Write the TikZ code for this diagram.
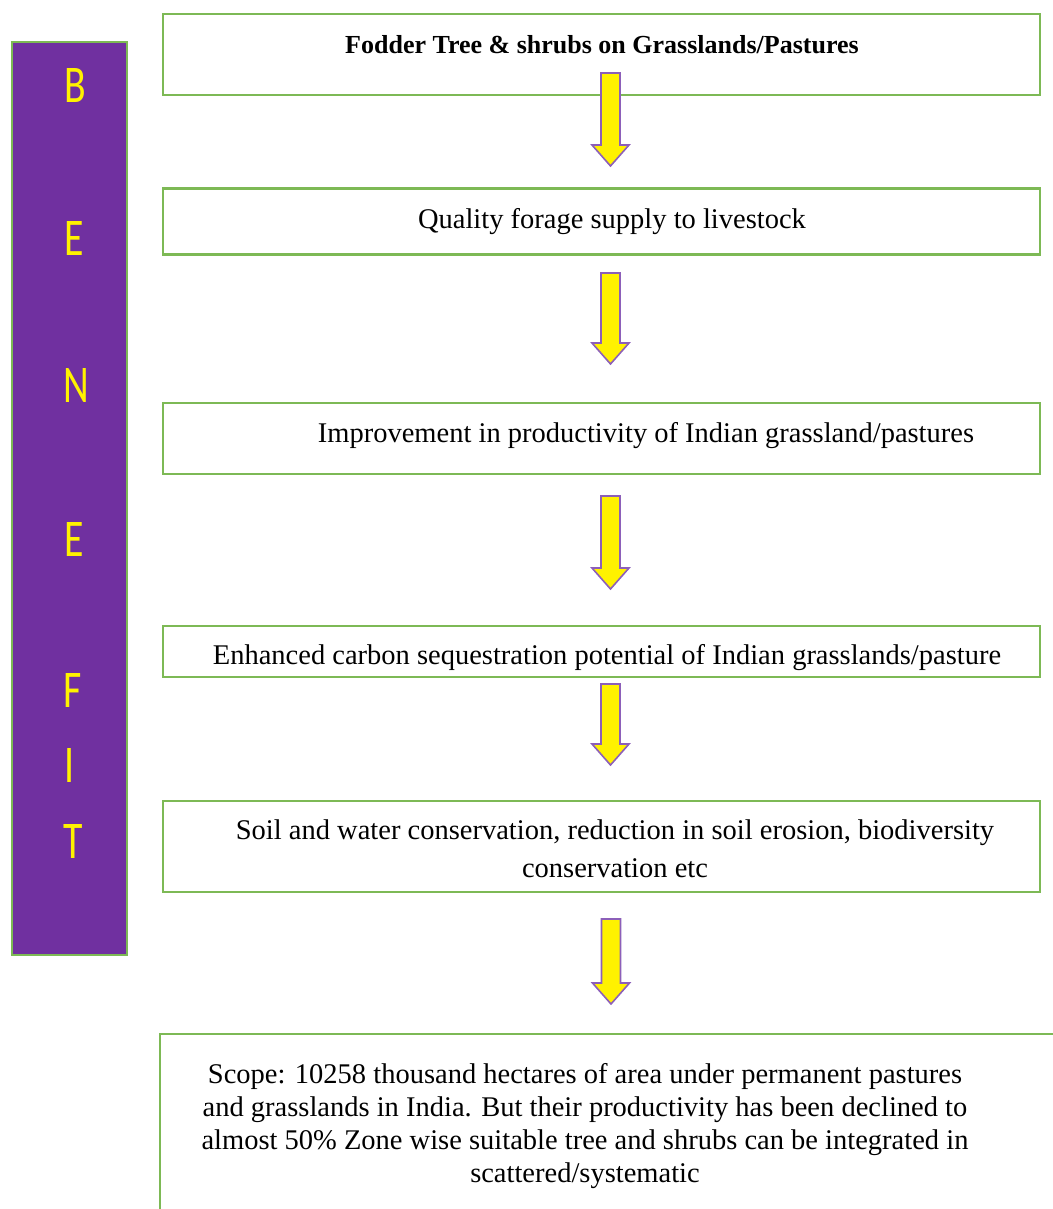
\documentclass[tikz,border=0pt]{standalone}
\usepackage{fontspec}
\setmainfont{Liberation Serif}
\newfontfamily\letterfont[FakeStretch=0.75]{Carlito}
\usetikzlibrary{calc}
\definecolor{barpurple}{RGB}{112,48,160}
\definecolor{boxgreen}{RGB}{125,185,85}
\definecolor{arrowpurple}{RGB}{140,95,185}
\tikzset{
    box/.style ={
        draw=boxgreen,
        line width=2.2pt,
        minimum width=877pt,
        inner sep=0pt
    },
    txt/.style ={
        font=\fontsize{28.5}{34}\selectfont,
        align=center,
        inner sep=0pt
    },
    letter/.style ={
        font=\letterfont\fontsize{53}{53}\selectfont,
        text=yellow,
        inner sep=0pt
    },
    blockarrow/.style ={
        fill=yellow,
        draw=arrowpurple,
        line width=1.6pt,
        line join=miter
    }
}
% yellow block arrow from #1 (top of shaft) to #2 (tip)
\newcommand{\blockarrow}[2]{%
    \draw[blockarrow] ($(#1)+(-9.5,0)$) -- ($(#1)+(9.5,0)$) -- ($(#2)+(9.5,-21)$)
        -- ($(#2)+(18.5,-21)$) -- (#2) -- ($(#2)+(-18.5,-21)$)
        -- ($(#2)+(-9.5,-21)$) -- cycle;}

\begin{document}
\begin{tikzpicture}[x=1pt,y=-1pt]
    \useasboundingbox (0,0) rectangle (1052,1209);
    % side bar
    \node[draw=boxgreen, line width=2pt, fill=barpurple, minimum width=115pt,
        minimum height=913pt, inner sep=0pt] (bar) at (69.5,498.5) {};
    \node[letter] (lB) at (75,85) {B};
    \node[letter] (lE1) at (74,238) {E};
    \node[letter] (lN) at (76,385) {N};
    \node[letter] (lE2) at (74,539) {E};
    \node[letter] (lF) at (73,690) {F};
    \node[letter] (lI) at (70,765) {I};
    \node[letter] (lT) at (73,841) {T};

    % boxes
    \node[box, minimum height=81pt] (b1) at (601.5,54.5) {};
    \node[box, minimum height=66pt] (b2) at (601.5,221.5) {};
    \node[box, minimum height=71pt] (b3) at (601.5,438.5) {};
    \node[box, minimum height=51pt] (b4) at (601.5,651.5) {};
    \node[box, minimum height=91pt] (b5) at (601.5,846.5) {};
    \node[box, minimum width=910pt, minimum height=196pt] (b6) at (615,1132) {};

    % texts
    \node[txt, font=\fontsize{26}{34}\selectfont\bfseries] (t1) at (602,45)
        {Fodder Tree \& shrubs on Grasslands/Pastures};
    \node[txt] (t2) at (612,222) {Quality forage supply to livestock};
    \node[txt] (t3) at (646,436) {Improvement in productivity of Indian grassland/pastures};
    \node[txt] (t4) at (607,658) {Enhanced carbon sequestration potential of Indian grasslands/pasture};
    \node[txt, font=\fontsize{28.5}{38}\selectfont] (t5) at (615,849)
        {Soil and water conservation, reduction in soil erosion, biodiversity\\conservation etc};
    \node[txt, font=\fontsize{28.5}{33}\selectfont] (t6) at (585,1126)
        {Scope: 10258 thousand hectares of area under permanent pastures\\
         and grasslands in India. But their productivity has been declined to\\
         almost 50\% Zone wise suitable tree and shrubs can be integrated in\\
         scattered/systematic};

    % arrows
    \coordinate (a1s) at (610.5,73);
    \coordinate (a1e) at (610.5,166);
    \coordinate (a2s) at (610.5,273);
    \coordinate (a2e) at (610.5,364);
    \coordinate (a3s) at (610.5,496);
    \coordinate (a3e) at (610.5,589);
    \coordinate (a4s) at (610.5,684);
    \coordinate (a4e) at (610.5,765);
    \coordinate (a5s) at (611,919);
    \coordinate (a5e) at (611,1004);
    \blockarrow{a1s}{a1e}
    \blockarrow{a2s}{a2e}
    \blockarrow{a3s}{a3e}
    \blockarrow{a4s}{a4e}
    \blockarrow{a5s}{a5e}
\end{tikzpicture}
\end{document}
